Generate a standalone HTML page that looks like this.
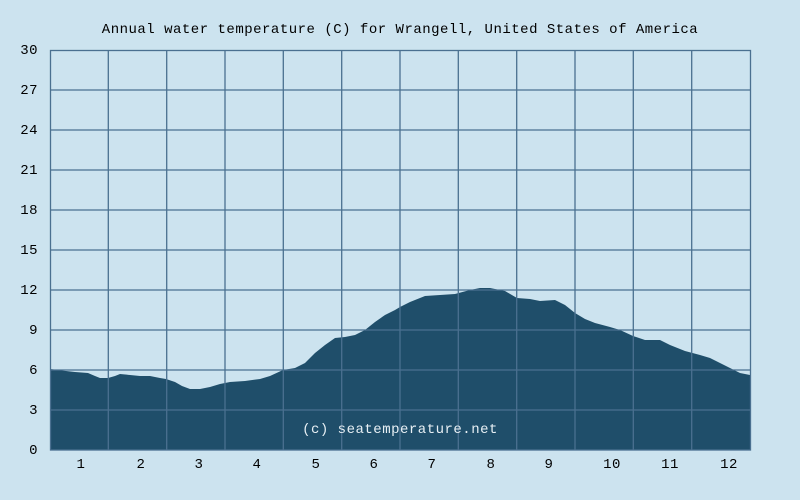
<!DOCTYPE html>
<html><head><style>
body{margin:0;background:#cce3ef;}
svg{display:block}
text{font-family:"Liberation Mono",monospace;font-size:14px;letter-spacing:0.5px;fill:#000}
</style></head><body>
<svg width="800" height="500" viewBox="0 0 800 500">
<rect width="800" height="500" fill="#cce3ef"/>
<text x="400" y="33" text-anchor="middle">Annual water temperature (C) for Wrangell, United States of America</text>
<polygon fill="#1f4e6a" points="50,450 50,369 58,370 66,371 75,372 88,373 95,376 100,378 108,378 115,376 120,374 130,375 140,376 150,376 160,378 166,379 175,382 182,386 190,389 200,389 210,387 220,384 230,382 245,381 260,379 270,376 283,370 295,368 305,363 315,353 325,345 335,338 345,337 355,335 365,330 375,322 385,315 395,310 400,307 410,302 425,296 440,295 455,294 470,290 480,288 490,288 505,291 517,298 530,299 540,301 555,300 565,305 575,313 585,319 595,323 610,327 620,330 633,336 645,340 660,340 670,345 685,351 700,355 710,358 720,363 730,368 740,373 750,375 750,450"/>
<g stroke="#4a7090" stroke-width="1.3" fill="none">
<rect x="50.5" y="50.5" width="700" height="399.5"/>
<path d="M50 90H750M50 130H750M50 170H750M50 210H750M50 250H750M50 290H750M50 330H750M50 370H750M50 410H750"/>
<path d="M108.3 50V450M166.7 50V450M225 50V450M283.3 50V450M341.7 50V450M400 50V450M458.3 50V450M516.7 50V450M575 50V450M633.3 50V450M691.7 50V450"/>
</g>
<g text-anchor="end">
<text x="38" y="454">0</text><text x="38" y="414">3</text><text x="38" y="374">6</text><text x="38" y="334">9</text><text x="38" y="294">12</text><text x="38" y="254">15</text><text x="38" y="214">18</text><text x="38" y="174">21</text><text x="38" y="134">24</text><text x="38" y="94">27</text><text x="38" y="54">30</text>
</g>
<g text-anchor="middle">
<text x="81" y="468">1</text><text x="141" y="468">2</text><text x="199" y="468">3</text><text x="257" y="468">4</text><text x="316" y="468">5</text><text x="374" y="468">6</text><text x="432" y="468">7</text><text x="491" y="468">8</text><text x="549" y="468">9</text><text x="612" y="468">10</text><text x="670" y="468">11</text><text x="729" y="468">12</text>
</g>
<text x="400" y="433" text-anchor="middle" style="fill:#e8f0f5">(c) seatemperature.net</text>
</svg>
</body></html>
